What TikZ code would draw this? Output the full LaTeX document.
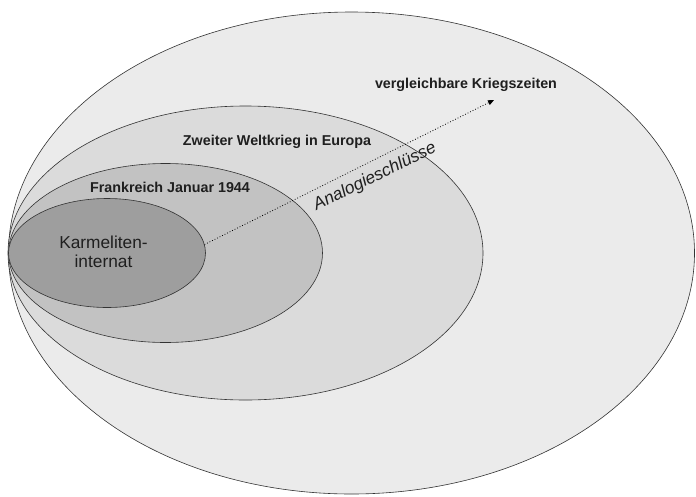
\documentclass[tikz,border=0pt]{standalone}
\usepackage{fontspec}
\setmainfont{Liberation Sans}
\usetikzlibrary{shapes.geometric,arrows.meta}

\begin{document}
\begin{tikzpicture}[x=1pt,y=-1pt,
        zone/.style={ellipse,draw=black!80,line width=0.6pt,inner sep=0pt},
        title/.style={font=\fontsize{14.3}{16}\selectfont\bfseries,text=black!88},
        core/.style={font=\fontsize{17.3}{19}\selectfont,text=black!88,align=center}]
    \useasboundingbox (0,0) rectangle (696,496);
    % nested ellipses, all touching at the left edge
    \node[zone,fill=black!8,minimum width=686,minimum height=482] (vergleich) at (351.5,253) {};
    \node[zone,fill=black!14,minimum width=475,minimum height=294] (weltkrieg) at (245.5,253) {};
    \node[zone,fill=black!24,minimum width=314,minimum height=179] (frankreich) at (165.5,253) {};
    \node[zone,fill=black!38,minimum width=197,minimum height=109] (internat) at (107,253) {};
    % labels
    \node[title] (tvergleich) at (466,85) {vergleichbare Kriegszeiten};
    \node[title] (tweltkrieg) at (277,142) {Zweiter Weltkrieg in Europa};
    \node[title] (tfrankreich) at (170,187) {Frankreich Januar 1944};
    \node[core] (tinternat) at (103.5,252) {Karmeliten-\\internat};
    % analogy arrow
    \coordinate (ziel) at (494,100);
    \draw[dotted,line width=0.8pt,-{Triangle[length=6pt,width=5pt]}] (internat.5) -- (ziel);
    \node[font=\fontsize{17.3}{19}\selectfont\itshape,text=black!88,rotate=26.4] (analogie) at (375,177) {Analogieschlüsse};
\end{tikzpicture}
\end{document}
